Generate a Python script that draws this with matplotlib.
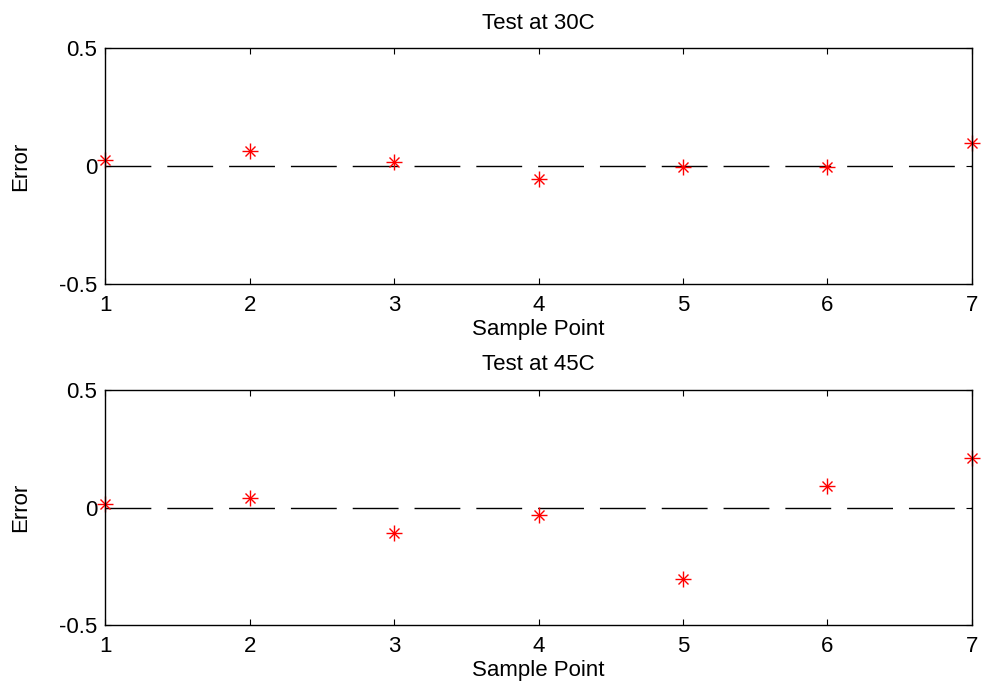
import matplotlib.pyplot as plt
import numpy as np

plt.rcParams['font.family'] = ['Liberation Sans', 'DejaVu Sans']
plt.rcParams['lines.scale_dashes'] = False

# sample points and errors for both temperature tests
samples = [1, 2, 3, 4, 5, 6, 7]
err_30 = [0.028, 0.064, 0.018, -0.052, -0.003, -0.003, 0.099]
err_45 = [0.014, 0.042, -0.110, -0.031, -0.305, 0.093, 0.210]
titles = ["Test at 30C", "Test at 45C"]

fig = plt.figure(figsize=(9.81, 6.85), dpi=100)
ax1 = fig.add_axes([0.1075, 0.585, 0.883, 0.3445])
ax2 = fig.add_axes([0.1075, 0.0871, 0.883, 0.3439])

for ax, err, title in zip([ax1, ax2], [err_30, err_45], titles):
    # zero reference line
    ax.plot([samples[0], samples[-1]], [0, 0], color='black', linewidth=1,
            dashes=(33, 11.5))
    # asterisk markers: plus + cross
    ax.plot(samples, err, linestyle='none', marker='+', markersize=12,
            markeredgewidth=1, color='red', clip_on=False)
    ax.plot(samples, err, linestyle='none', marker='x', markersize=7,
            markeredgewidth=1, color='red', clip_on=False)
    ax.set_xlim(1, 7)
    ax.set_ylim(-0.5, 0.5)
    ax.set_xticks(samples)
    ax.set_yticks([-0.5, 0, 0.5])
    ax.set_yticklabels(['-0.5', '0', '0.5'])
    ax.tick_params(direction='in', length=4.5, width=0.8, top=True, right=True,
                   labelsize=16)
    ax.tick_params(axis='x', pad=8)
    ax.tick_params(axis='y', pad=6)
    for s in ax.spines.values():
        s.set_linewidth(1)
    ax.set_title(title, fontsize=16, pad=14)
    ax.set_xlabel("Sample Point", fontsize=16, labelpad=2)
    ax.set_ylabel("Error", fontsize=16, labelpad=20)

fig.savefig("out.png", dpi=100)
